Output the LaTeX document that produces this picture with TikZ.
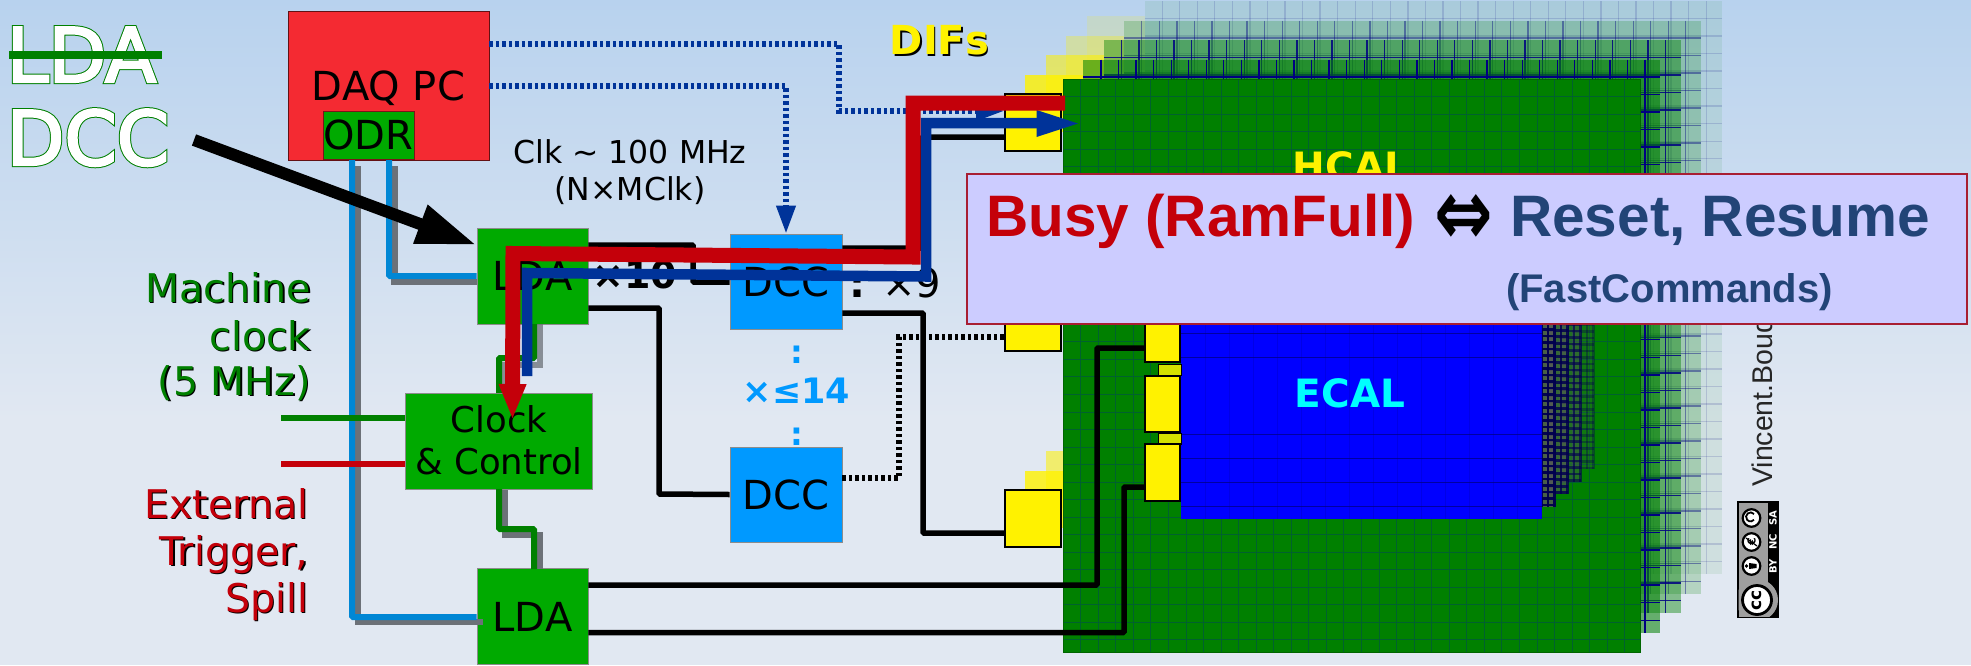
\documentclass[tikz,border=0pt]{standalone}
\usepackage{fontspec}
\setmainfont{DejaVu Sans}
\newfontfamily\lib{Liberation Sans}
\usetikzlibrary{arrows.meta,calc}
\definecolor{bgA}{RGB}{184,210,238}
\definecolor{bgB}{RGB}{225,232,242}
\definecolor{boxgreen}{RGB}{0,170,0}
\definecolor{linegreen}{RGB}{0,128,0}
\definecolor{hred}{RGB}{196,0,10}
\definecolor{dblue}{RGB}{0,51,153}
\definecolor{lblue}{RGB}{0,135,213}
\definecolor{dccblue}{RGB}{0,153,255}
\definecolor{shgrey}{RGB}{108,113,120}
\definecolor{daqred}{RGB}{244,42,50}
\definecolor{lilac}{RGB}{204,204,255}
\definecolor{navytext}{RGB}{34,68,119}
\definecolor{gridnavy}{RGB}{0,0,130}
\definecolor{ecalcyan}{RGB}{0,255,255}
\newcommand{\fs}[1]{\fontsize{#1}{#1}\selectfont}
\newcommand{\outlG}[1]{{\color{linegreen}\special{pdf:code 0 0.5 0 RG 2 Tr 4.4 w}#1\special{pdf:code 0 Tr}}}
\newcommand{\outlW}[1]{{\color{white}\special{pdf:code 1 1 1 RG 2 Tr 2.4 w}#1\special{pdf:code 0 Tr}}}
\newcommand{\hlayer}[4]{%
 \begin{scope}[shift={({20.4*#1},{-19.5*#1})}]
  \fill[yellow,fill opacity=#4] (1005,94) rectangle (1063,151);
  \fill[yellow,fill opacity=#4] (1005,490) rectangle (1063,547);
  \fill[linegreen,fill opacity=#2] (1063,79) rectangle (1640,652);
  \foreach \i in {1,...,32}{\draw[gridnavy,draw opacity=#3,line width=1.3] ({1063+17.55*\i},79) -- ({1063+17.55*\i},652);}
  \foreach \i in {1,...,32}{\draw[gridnavy,draw opacity=#3,line width=1.3] (1063,{79+17.52*\i}) -- (1640,{79+17.52*\i});}
 \end{scope}}
\newcommand{\elayer}[3]{%
 \begin{scope}[shift={({13*#1},{-12.4*#1})}]
  \fill[gray!70!black,fill opacity=#2] (1520,300) rectangle (1542,519);
  \foreach \i in {0,...,3}{\draw[gridnavy!60!black,draw opacity=#3,line width=2.6] ({1522+6.5*\i},300) -- ({1522+6.5*\i},519);}
  \foreach \i in {0,...,33}{\draw[gridnavy!60!black,draw opacity=#3,line width=2.6] (1520,{303+6.5*\i}) -- (1542,{303+6.5*\i});}
 \end{scope}}
\tikzset{
 box/.style={draw=black!45,line width=.8,inner sep=0pt,text=black,font=\fs{40},text height=29pt,text depth=0pt,align=center},
 gbox/.style={box,fill=boxgreen,minimum width=111pt,minimum height=96pt},
 bbox/.style={box,fill=dccblue,minimum width=112pt,minimum height=95pt},
 dif/.style={draw=black,line width=1.8,fill=yellow,inner sep=0pt,minimum width=56pt,minimum height=57pt},
 dif2/.style={draw=black,line width=1.5,fill=yellow,inner sep=0pt,minimum width=35pt},
 lbl/.style={inner sep=0pt,anchor=base},
 lblr/.style={inner sep=0pt,anchor=base east},
 blk/.style={draw=black,line width=5.5,rounded corners=1pt},
 blkdot/.style={draw=black,line width=5.5,dash pattern=on 3.5pt off 3pt},
 blud/.style={draw=dblue,line width=5.5,dash pattern=on 3.5pt off 3pt},
 fib/.style={draw=lblue,line width=6,rounded corners=1pt},
 sha/.style={draw=shgrey,line width=6.5},
 grn/.style={draw=linegreen,line width=6,rounded corners=1pt},
}
\begin{document}
\begin{tikzpicture}[x=1pt,y=-1pt]
\useasboundingbox (0,0) rectangle (1971,665);
\fill[bgB] (0,0) rectangle (1971,665);
\shade[top color=bgA,bottom color=bgB] (0,0) rectangle (1971,420);
% HCAL stack
\hlayer{4}{.08}{.14}{.15}
\hlayer{3}{.2}{.42}{.3}
\hlayer{2}{.42}{.85}{.55}
\hlayer{1}{.55}{1}{.8}
\fill[linegreen] (1063,79) rectangle (1640,652);
\foreach \i in {1,...,32}{\draw[black!40!teal!60!linegreen,line width=.7] ({1063+17.55*\i},79) -- ({1063+17.55*\i},652);}
\foreach \i in {1,...,32}{\draw[black!40!teal!60!linegreen,line width=.7] (1063,{79+17.52*\i}) -- (1640,{79+17.52*\i});}
\draw[black!60!green,line width=.8] (1063,79) rectangle (1640,652);
% ECAL stack
\elayer{4}{.2}{.35}
\elayer{3}{.4}{.6}
\elayer{2}{.6}{.8}
\elayer{1}{.8}{.95}
\fill[blue] (1181,200) rectangle (1542,519);
\foreach \yy in {333,357,434,458,482,506}{\draw[gridnavy,draw opacity=.75,line width=.7] (1181,\yy) -- (1542,\yy);}
\foreach \i in {1,...,15}{\draw[gridnavy,draw opacity=.2,line width=.5] ({1181+24*\i},200) -- ({1181+24*\i},519);}
\node[lbl,font=\bfseries\fs{39},text=yellow] (hcal) at (1351,180) {HCAL};
\node[lbl,font=\bfseries\fs{39},text=ecalcyan] (ecal) at (1350,407) {ECAL};
% small connectors
\node[draw=black,line width=1,fill={rgb,255:red,212;green,225;blue,0},inner sep=0pt,minimum width=23pt,minimum height=11pt] (lnkA) at (1169.5,369.5) {};
\node[draw=black,line width=1,fill={rgb,255:red,212;green,225;blue,0},inner sep=0pt,minimum width=23pt,minimum height=11pt] (lnkB) at (1169.5,438.5) {};
% DIFs
\node[dif] (difA) at (1033,122.5) {};
\node[dif] (difB) at (1033,322.5) {};
\node[dif] (difC) at (1033,518.5) {};
\node[dif2,minimum height=57pt] (difD) at (1162.5,333.5) {};
\node[dif2,minimum height=56pt] (difE) at (1162.5,404) {};
\node[dif2,minimum height=57pt] (difF) at (1162.5,472.5) {};
% boxes
\node[box,fill=daqred,draw=black!60!daqred,minimum width=201pt,minimum height=149pt] (daq) at (388.5,85.5) {DAQ PC};
\node[box,fill=boxgreen,draw=black!50!daqred,minimum width=91pt,minimum height=48pt] (odr) at (368.5,135) {ODR};
\node[gbox] (ldaA) at (532.5,276) {LDA};
\node[gbox] (ldaB) at (532.5,616.5) {LDA};
\node[bbox] (dccA) at (786,281.5) {DCC};
\node[bbox] (dccB) at (786,494.5) {DCC};
\node[gbox,minimum width=187pt] (clk) at (498.5,441) {};
\node[lbl,font=\fs{35.5},text=black] (clkA) at (499,432) {Clock};
\node[lbl,font=\fs{35.5},text=black] (clkB) at (499,474) {\& Control};
% fibres
\draw[sha] (358,166) |- (ldaB.west |- 0,622) -- ++(6,0);
\draw[sha] (394.5,166) |- (ldaA.west |- 0,282);
\draw[fib] (352,160) |- (ldaB.west |- 0,617);
\draw[fib] (389,160) |- (ldaA.west |- 0,276);
% clock links
\draw[sha,draw opacity=.75] (540,324) -- (540,365) -- (505,365) -- (505,393);
\draw[sha] (505,490) -- (505,535) -- (540,535) -- (540,569);
\draw[grn] (534,324) -- (534,358) -- (499,358) -- (499,393);
\draw[grn] (499,489) -- (499,529) -- (534,529) -- (534,569);
% black data lines
\node[lbl,font=\bfseries\fs{38},text=black] (xten) at (635,288) {×10};
\node[lbl,font=\fs{40},text=black] (xnine) at (895,297) {\textbf{:} ×9};
\draw[blk] (ldaA.east |- 0,245) -- (693,245) -- (693,282) -- (dccA.west |- 0,282);
\draw[blk] (ldaA.east |- 0,308) -- (659,308) -- (659,494) -- (dccB.west);
\draw[blk] (dccA.east |- 0,248) -- (922,248) -- (922,137) -- (difA.west |- 0,137);
\draw[blk] (dccA.east |- 0,313) -- (923,313) -- (923,533) -- (difC.west |- 0,533);
\draw[blk] (ldaB.east |- 0,585) -- (1097,585) -- (1097,348) -- (difD.west |- 0,348);
\draw[blk] (ldaB.east |- 0,632.5) -- (1124,632.5) -- (1124,487) -- (difF.west |- 0,487);
\draw[blkdot] (dccB.east |- 0,478) -- (899,478) -- (899,337) -- (difB.west |- 0,337);
% dotted control lines
\draw[blud,-{Triangle[length=28pt,width=18.5pt]}] (daq.east |- 0,44) -- (839,44) -- (839,111) -- (difA.west |- 0,111);
\draw[blud,-{Triangle[length=28pt,width=18.5pt]}] (daq.east |- 0,86) -- (786,86) -- (dccA.north);
% trigger and clock inputs
\coordinate (clkin) at (281,418);
\coordinate (trigin) at (281,464);
\draw[draw=linegreen,line width=6] (clkin) -- (clk.west |- clkin);
\draw[draw=hred,line width=6] (trigin) -- (clk.west |- trigin);
% thick busy / reset lines
\coordinate (blA) at (527,273);
\coordinate (blB) at (926,276.5);
\coordinate (blC) at (926,123);
\draw[draw=dblue,line width=10.5] (527,376) -- (blA) -- (blB) -- (blC) -- (1045,123);
\fill[dblue] (1036.5,110) -- (1078,123.5) -- (1036.5,137) -- cycle;
\draw[draw=hred,line width=15,-{Triangle[length=36pt,width=25pt]}] (1065,103) -- (913,103) -- (913,257) -- (513,253.5) -- (512.5,420);
% big arrow
\coordinate (arrA) at (194,140);
\draw[draw=black,line width=12,-{Triangle[length=60pt,width=38pt]}] (arrA) -- (ldaA.west |- 0,245);
% texts
\node[lbl,anchor=base west,font=\fs{75}] (oldnameS) at (6.5,82) {\outlG{LDA}};
\node[lbl,anchor=base west,font=\fs{75}] (oldname) at (6.5,82) {\outlW{LDA}};
\node[lbl,anchor=base west,font=\fs{75}] (newnameS) at (6.5,165) {\outlG{DCC}};
\node[lbl,anchor=base west,font=\fs{75}] (newname) at (6.5,165) {\outlW{DCC}};
\draw[draw=linegreen,line width=8] (9,55) -- (162,55);
\node[inner sep=0pt,font=\fs{31.5},text=black,anchor=base] (clktxt) at (630,163) {Clk \textasciitilde{} 100 MHz};
\node[inner sep=0pt,font=\fs{31.5},text=black,anchor=base] (clktxtb) at (630,200) {(N×MClk)};
% shadowed labels
\node[lblr,font=\fs{39.5},text=black] at (312.5,303.5) {Machine};
\node[lblr,font=\fs{39.5},text=linegreen] at (311,302) {Machine};
\node[lblr,font=\fs{39.5},text=black] at (312.5,351.5) {clock};
\node[lblr,font=\fs{39.5},text=linegreen] at (311,350) {clock};
\node[lblr,font=\fs{39.5},text=black] at (312.5,396.5) {(5 MHz)};
\node[lblr,font=\fs{39.5},text=linegreen] at (311,395) {(5 MHz)};
\node[lblr,font=\fs{39.5},text=black] at (310,519.5) {External};
\node[lblr,font=\fs{39.5},text=hred] at (308.5,518) {External};
\node[lblr,font=\fs{39.5},text=black] at (310,566.5) {Trigger,};
\node[lblr,font=\fs{39.5},text=hred] at (308.5,565) {Trigger,};
\node[lblr,font=\fs{39.5},text=black] at (310,613.5) {Spill};
\node[lblr,font=\fs{39.5},text=hred] at (308.5,612) {Spill};
\node[lbl,font=\bfseries\fs{40},text=black] at (941,56) {DIFs};
\node[lbl,font=\bfseries\fs{40},text=yellow] at (939.5,54) {DIFs};
\node[lbl,font=\bfseries\fs{35},text=dccblue] (mult) at (796.5,403) {×≤14};
\node[lbl,font=\bfseries\fs{32},text=dccblue] (colA) at (796.5,363) {:};
\node[lbl,font=\bfseries\fs{32},text=dccblue] (colB) at (796.5,445) {:};
% credit
\node[inner sep=0pt,anchor=base west,rotate=90,font=\lib\fs{28.5},text=black!85] (credit) at (1772,487) {Vincent.Boudry};
% cc badge
\fill[black] (1737,501) rectangle (1779,618);
\fill[gray!75] (1738.5,502.5) rectangle (1767.5,585);
\begin{scope}
 \clip (1738.5,502.5) rectangle (1779,616.5);
 \fill[gray!75] (1757,600) circle[radius=21];
 \fill[gray!75] (1738.5,580) rectangle (1750,616.5);
\end{scope}
\foreach \yy in {518,542,566}{\draw[black,fill=white,line width=2.2] (1751.5,\yy) circle[radius=8.8];}
\draw[black,fill=white,line width=2.8] (1757,600) circle[radius=14.5];
\node[inner sep=0pt,rotate=90,font=\bfseries\fs{17},text=black] at (1756.5,600) {cc};
\draw[black,line width=1.8] (1754,514) arc[start angle=-40,end angle=-320,radius=4.5];
\node[inner sep=0pt,rotate=90,font=\bfseries\fs{11},text=black] at (1751.5,542) {€};
\draw[black,line width=1.2] (1746,538) -- (1757,546);
\fill[black] (1746.5,566) circle[radius=1.8];
\fill[black] (1749,563) -- (1756.5,564) -- (1756.5,568) -- (1749,569) -- cycle;
\node[inner sep=0pt,rotate=90,font=\bfseries\fs{10},text=white] at (1773,518) {SA};
\node[inner sep=0pt,rotate=90,font=\bfseries\fs{10},text=white] at (1773,542) {NC};
\node[inner sep=0pt,rotate=90,font=\bfseries\fs{10},text=white] at (1773,566) {BY};
% legend box
\node[draw={rgb,255:red,168;green,30;blue,50},line width=1.5,fill=lilac,inner sep=0pt,minimum width=1000pt,minimum height=150pt] (legend) at (1467,249) {};
\node[inner sep=0pt,anchor=base west,font=\lib\bfseries\fs{58.5},text=hred] (busy) at (986,236) {Busy (RamFull)};
\node[inner sep=0pt,anchor=base,font=\bfseries\fs{70},text=black] (dbl) at (1464,245.5) {\scalebox{1}[1.35]{⇔}};
\node[inner sep=0pt,anchor=base west,font=\lib\bfseries\fs{58.5},text=navytext] (reset) at (1510,236) {Reset, Resume};
\node[inner sep=0pt,anchor=base west,font=\lib\bfseries\fs{40},text=navytext] (fast) at (1506,302) {(FastCommands)};
\end{tikzpicture}
\end{document}
